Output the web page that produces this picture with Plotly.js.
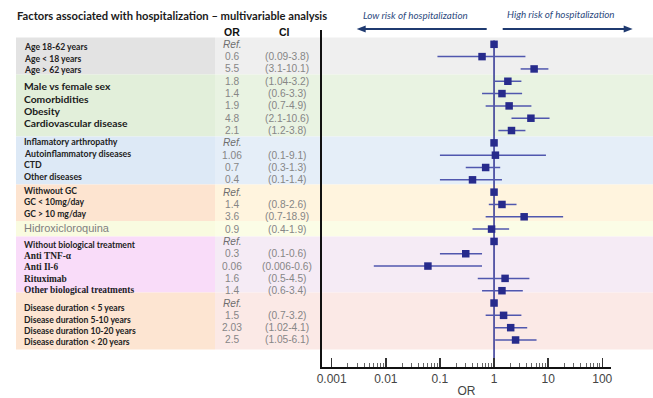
<!DOCTYPE html>
<html>
<head>
<meta charset="utf-8">
<script src="https://cdn.plot.ly/plotly-3.0.1.min.js"></script>
<style>
html,body{margin:0;padding:0;background:#fff;}
#chart{width:653px;height:398px;}
</style>
</head>
<body>
<div id="chart"></div>
<script>
// ---------- data ----------
const orValues = [1, 0.6, 5.5, 1.8, 1.4, 1.9, 4.8, 2.1, 1, 1.06, 0.7, 0.4, 1, 1.4, 3.6, 0.9, 1, 0.3, 0.06, 1.6, 1.4, 1, 1.5, 2.03, 2.5];
const ciLow   = [null, 0.09, 3.1, 1.04, 0.6, 0.7, 2.1, 1.2, null, 0.1, 0.3, 0.1, null, 0.8, 0.7, 0.4, null, 0.1, 0.006, 0.5, 0.6, null, 0.7, 1.02, 1.05];
const ciHigh  = [null, 3.8, 10.1, 3.2, 3.3, 4.9, 10.6, 3.8, null, 9.1, 1.3, 1.4, null, 2.6, 18.9, 1.9, null, 0.6, 0.6, 4.5, 3.4, null, 3.2, 4.1, 6.1];
const orText  = ["Ref.", "0.6", "5.5", "1.8", "1.4", "1.9", "4.8", "2.1", "Ref.", "1.06", "0.7", "0.4", "Ref.", "1.4", "3.6", "0.9", "Ref.", "0.3", "0.06", "1.6", "1.4", "Ref.", "1.5", "2.03", "2.5"];
const ciText  = ["", "(0.09-3.8)", "(3.1-10.1)", "(1.04-3.2)", "(0.6-3.3)", "(0.7-4.9)", "(2.1-10.6)", "(1.2-3.8)", "", "(0.1-9.1)", "(0.3-1.3)", "(0.1-1.4)", "", "(0.8-2.6)", "(0.7-18.9)", "(0.4-1.9)", "", "(0.1-0.6)", "(0.006-0.6)", "(0.5-4.5)", "(0.6-3.4)", "", "(0.7-3.2)", "(1.02-4.1)", "(1.05-6.1)"];

const labelsAge      = ["Age 18-62 years", "Age < 18 years", "Age > 62 years"];
const labelsClinical = ["Male vs female sex", "Comorbidities", "Obesity", "Cardiovascular disease"];
const labelsDisease  = ["Inflamatory arthropathy", "Autoinflammatory diseases", "CTD", "Other diseases"];
const labelsGC       = ["Withwout GC", "GC < 10mg/day", "GC > 10 mg/day"];
const labelsHCQ      = ["Hidroxicloroquina"];
const labelsBio      = ["Without biological treatment", "Anti TNF-α", "Anti Il-6", "Rituximab", "Other biological treatments"];
const labelsDuration = ["Disease duration < 5 years", "Disease duration 5-10 years", "Disease duration 10-20 years", "Disease duration < 20 years"];

const tickVals  = [0.001, 0.01, 0.1, 1, 10, 100];
const tickText  = ["0.001", "0.01", "0.1", "1", "10", "100"];

// ---------- layout geometry (pixels) ----------
const L = 322, R = 611, T = 30, B = 367;
const px2x = p => (p - L) / (R - L);
const py2y = p => (B - p) / (B - T);

// label groups: pixel centers and font styles
const groups = [
  {labels: labelsAge,      py: [47, 59, 70.3],                 font: {family: "Lato", size: 8.6, color: "#222", weight: 700}},
  {labels: labelsClinical, py: [86, 98.7, 110.7, 123.3],       font: {family: "Lato", size: 10.3, color: "#1a1a1a", weight: 700}},
  {labels: labelsDisease,  py: [141.7, 153.3, 164.3, 176],     font: {family: "Lato", size: 8.8, color: "#222", weight: 700}},
  {labels: labelsGC,       py: [191, 202, 214],                font: {family: "Lato", size: 8.6, color: "#222", weight: 700}},
  {labels: labelsHCQ,      py: [228],                          font: {family: "Liberation Sans", size: 11, color: "#7f7f7f", weight: 400}},
  {labels: labelsBio.slice(0,1), py: [244.7],                  font: {family: "Lato", size: 8.6, color: "#222", weight: 700}},
  {labels: labelsBio.slice(1), py: [256, 267.3, 278.7, 290],   font: {family: "Liberation Serif", size: 9.4, color: "#222", weight: 700}},
  {labels: labelsDuration, py: [307.7, 320, 331, 342.3],       font: {family: "Lato", size: 8.6, color: "#222", weight: 700}}
];

// background bands
const bandEdges  = [37.5, 74.5, 136.5, 184.5, 221, 236.5, 292.5, 349.5];
const leftFill   = ["#e3e3e3", "#e2efda", "#dde9f6", "#fde4d0", "#f9fbe0", "#f9dcf9", "#fde5d2"];
const rightFill  = ["#efefef", "#e9f3e2", "#e5eef8", "#fff4de", "#fbfde6", "#f5ebf5", "#fbe9e6"];

const shapes = [];
for (let i = 0; i < leftFill.length; i++) {
  shapes.push({type: "rect", xref: "paper", yref: "paper", layer: "below",
    x0: px2x(16), x1: px2x(215), y0: py2y(bandEdges[i+1]), y1: py2y(bandEdges[i]),
    fillcolor: leftFill[i], line: {width: 0}});
  shapes.push({type: "rect", xref: "paper", yref: "paper", layer: "below",
    x0: px2x(215), x1: px2x(653), y0: py2y(bandEdges[i+1]), y1: py2y(bandEdges[i]),
    fillcolor: rightFill[i], line: {width: 0}});
}
// direction arrows
const arrowColor = "#1f3a70";
const arrowY = 29;
shapes.push({type: "line", xref: "paper", yref: "paper", x0: px2x(486.7), x1: px2x(362), y0: py2y(arrowY), y1: py2y(arrowY), line: {color: arrowColor, width: 2}});
shapes.push({type: "line", xref: "paper", yref: "paper", x0: px2x(502.7), x1: px2x(627), y0: py2y(arrowY), y1: py2y(arrowY), line: {color: arrowColor, width: 2}});
function tri(tipX, dir) {
  const bx = tipX + dir * 9;
  return `M ${px2x(tipX)} ${py2y(arrowY)} L ${px2x(bx)} ${py2y(arrowY - 3.5)} L ${px2x(bx)} ${py2y(arrowY + 3.5)} Z`;
}
shapes.push({type: "path", xref: "paper", yref: "paper", path: tri(356.7, 1), fillcolor: arrowColor, line: {width: 0}});
shapes.push({type: "path", xref: "paper", yref: "paper", path: tri(632.7, -1), fillcolor: arrowColor, line: {width: 0}});

const annotations = [];
groups.forEach(g => {
  g.labels.forEach((t, i) => {
    annotations.push({xref: "paper", yref: "paper", x: px2x(22), y: py2y(g.py[i]),
      xanchor: "left", yanchor: "middle", text: t, showarrow: false, font: g.font});
  });
});
// OR / CI columns
const rows = orValues.map((v, i) => i);
orText.forEach((t, i) => {
  const isRef = t === "Ref.";
  annotations.push({xref: "paper", yref: "y", x: px2x(232), y: rows[i], xanchor: "center", yanchor: "middle",
    text: isRef ? "<i>" + t + "</i>" : t, showarrow: false,
    font: {family: "Liberation Sans", size: 10.2, color: isRef ? "#6e6e6e" : "#868686"}});
  if (ciText[i]) annotations.push({xref: "paper", yref: "y", x: px2x(287), y: rows[i], xanchor: "center", yanchor: "middle",
    text: ciText[i], showarrow: false, font: {family: "Liberation Sans", size: 10.2, color: "#868686"}});
});
annotations.push({xref: "paper", yref: "paper", x: px2x(232), y: py2y(32), xanchor: "center", yanchor: "middle",
  text: "<b>OR</b>", showarrow: false, font: {family: "Liberation Sans", size: 10.5, color: "#111"}});
annotations.push({xref: "paper", yref: "paper", x: px2x(284), y: py2y(32), xanchor: "center", yanchor: "middle",
  text: "<b>CI</b>", showarrow: false, font: {family: "Liberation Sans", size: 10.5, color: "#111"}});
annotations.push({xref: "paper", yref: "paper", x: px2x(415.5), y: py2y(15), xanchor: "center", yanchor: "middle",
  text: "<i>Low risk of hospitalization</i>", showarrow: false, font: {family: "Lato", size: 9.8, color: "#2c4a7e"}});
annotations.push({xref: "paper", yref: "paper", x: px2x(561), y: py2y(14), xanchor: "center", yanchor: "middle",
  text: "<i>High risk of hospitalization</i>", showarrow: false, font: {family: "Lato", size: 9.8, color: "#2c4a7e"}});

// minor tick positions
const minorVals = [];
for (let e = -3; e < 2; e++) for (let k = 2; k <= 9; k++) minorVals.push(k * Math.pow(10, e));

const traces = [
  {type: "scatter", mode: "lines", x: [1, 1], y: [-0.3, 26.2], line: {color: "#2e3192", width: 1.5},
   hoverinfo: "skip", showlegend: false, cliponaxis: false},
  {type: "scatter", mode: "markers", x: orValues, y: rows, showlegend: false,
   marker: {symbol: "square", size: 7.5, color: "#272b8c"},
   error_x: {type: "data", symmetric: false,
     array: orValues.map((v, i) => ciHigh[i] == null ? 0 : ciHigh[i] - v),
     arrayminus: orValues.map((v, i) => ciLow[i] == null ? 0 : v - ciLow[i]),
     thickness: 1.5, width: 0, color: "#5057ae"}}
];

const layout = {
  width: 653, height: 398,
  margin: {l: L, r: 653 - R, t: T, b: 398 - B, pad: 0},
  paper_bgcolor: "#ffffff", plot_bgcolor: "rgba(0,0,0,0)",
  showlegend: false,
  title: {text: "<b>Factors associated with hospitalization – multivariable analysis</b>",
    x: 17 / 653, xanchor: "left", xref: "container", y: 1 - 16 / 398, yanchor: "middle", yref: "container",
    font: {family: "Lato", size: 11.2, color: "#1a1a1a"}},
  xaxis: {type: "log", range: [-3.179, 2.161], fixedrange: true,
    tickmode: "array", tickvals: tickVals, ticktext: tickText,
    ticks: "inside", ticklen: 9, tickwidth: 1.5, tickcolor: "#333",
    minor: {tickmode: "array", tickvals: minorVals, ticks: "inside", ticklen: 4, tickwidth: 1, tickcolor: "#666", showgrid: false},
    showline: true, linecolor: "#111", linewidth: 2, showgrid: false, zeroline: false,
    tickfont: {family: "Liberation Sans", size: 12, color: "#444"},
    title: {text: "OR", standoff: 4, font: {family: "Liberation Sans", size: 12, color: "#444"}}},
  yaxis: {range: [26.193, -1.161], showticklabels: false, ticks: "", showgrid: false, zeroline: false,
    showline: true, linecolor: "#111", linewidth: 2, fixedrange: true},
  shapes: shapes,
  annotations: annotations
};

Plotly.newPlot("chart", traces, layout, {displayModeBar: false, staticPlot: true});
</script>
</body>
</html>
